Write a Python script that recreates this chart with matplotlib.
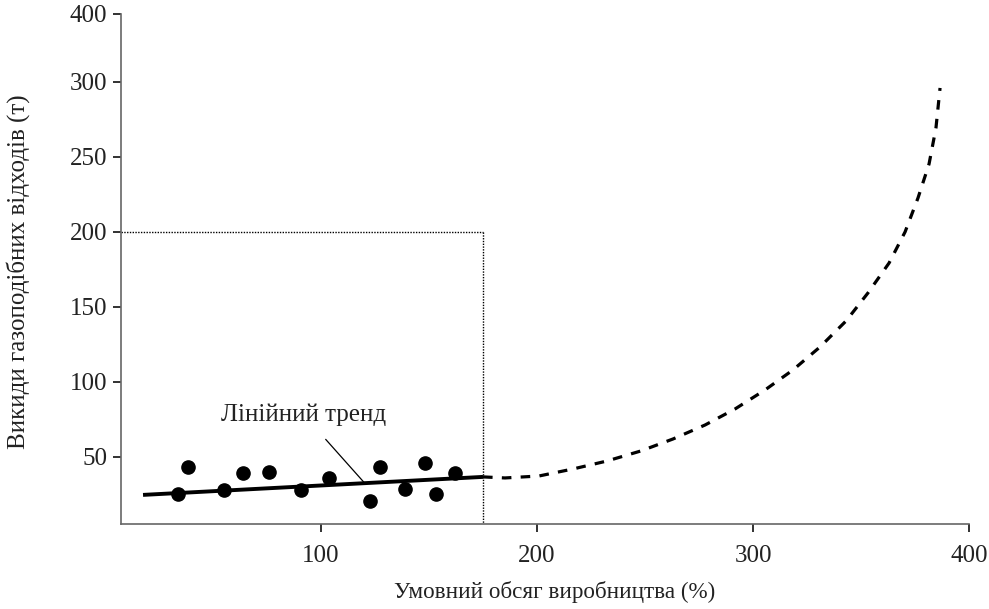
import matplotlib.pyplot as plt

plt.rcParams['font.family'] = ['Liberation Serif', 'DejaVu Serif']

# Observed points (production %, emissions t)
obs_x = [33.8, 38.4, 55.1, 63.9, 75.9, 90.7, 103.7, 122.7, 127.3, 138.9, 148.1, 153.2, 162.0]
obs_y = [25.3, 43.3, 28.0, 39.3, 40.0, 28.0, 36.0, 20.7, 43.3, 28.7, 46.0, 25.3, 39.3]

# Linear trend endpoints
trend_x = [17.6, 175.0]
trend_y = [24.7, 36.7]

# Extrapolated (dashed) curve
curve_x = [175.0, 185.2, 200.9, 216.7, 232.4, 248.1, 263.0, 277.8, 291.7, 305.6,
           318.5, 331.0, 343.1, 353.2, 363.0, 370.4, 376.4, 381.5, 384.7, 386.6]
curve_y = [36.7, 36.0, 37.3, 42.0, 47.3, 54.0, 62.0, 71.3, 82.0, 94.7,
           108.0, 123.3, 140.7, 159.3, 179.3, 200.0, 222.7, 245.3, 269.3, 296.0]

# Dotted bounding box corner
box_x = 175.0
box_y = 200

x_ticks = [100, 200, 300, 400]
y_ticks = [50, 100, 150, 200, 250, 300, 345.3]
y_tick_labels = ['50', '100', '150', '200', '250', '300', '400']

fig = plt.figure(figsize=(9.89, 6.09), dpi=100)
ax = fig.add_axes([121/989, 1 - 524/609, (969 - 121)/989, (524 - 14)/609])

ax.set_xlim(7.4, 400)
ax.set_ylim(5.3, 345.3)

# dotted box
ax.plot([ax.get_xlim()[0], box_x], [box_y, box_y], color='black', lw=1, ls=(0, (1, 1)))
ax.plot([box_x, box_x], [box_y, ax.get_ylim()[0]], color='black', lw=1, ls=(0, (1, 1)))

ax.plot(trend_x, trend_y, color='black', lw=2.8, solid_capstyle='butt')
ax.plot(curve_x, curve_y, color='black', lw=2.3, dashes=(3, 2.9))
ax.plot(obs_x, obs_y, 'o', color='black', ms=9.5, zorder=5)

ax.annotate('Лінійний тренд', xy=(120, 32.9), xytext=(92.1, 78),
            ha='center', va='center', fontsize=18, color='#222222',
            arrowprops=dict(arrowstyle='-', color='black', lw=0.9,
                            shrinkA=10, shrinkB=0))

ax.set_xticks(x_ticks)
ax.set_yticks(y_ticks)
ax.set_yticklabels(y_tick_labels)

for s in ['top', 'right']:
    ax.spines[s].set_visible(False)
for s in ['left', 'bottom']:
    ax.spines[s].set_color('#666666')
    ax.spines[s].set_linewidth(1.2)

ax.tick_params(axis='both', direction='out', length=6, width=1.3,
               color='#222222', labelsize=18, labelcolor='#222222')
ax.tick_params(axis='x', pad=9)
ax.tick_params(axis='y', pad=4)

fig.text(555/989, 1 - 592/609, 'Умовний обсяг виробництва (%)', ha='center', va='center',
         fontsize=16.7, color='#222222')
fig.text(18/989, 1 - 272/609, 'Викиди газоподібних відходів (т)', ha='center', va='center',
         rotation=90, fontsize=18, color='#222222')

fig.savefig('out.png', dpi=100)
